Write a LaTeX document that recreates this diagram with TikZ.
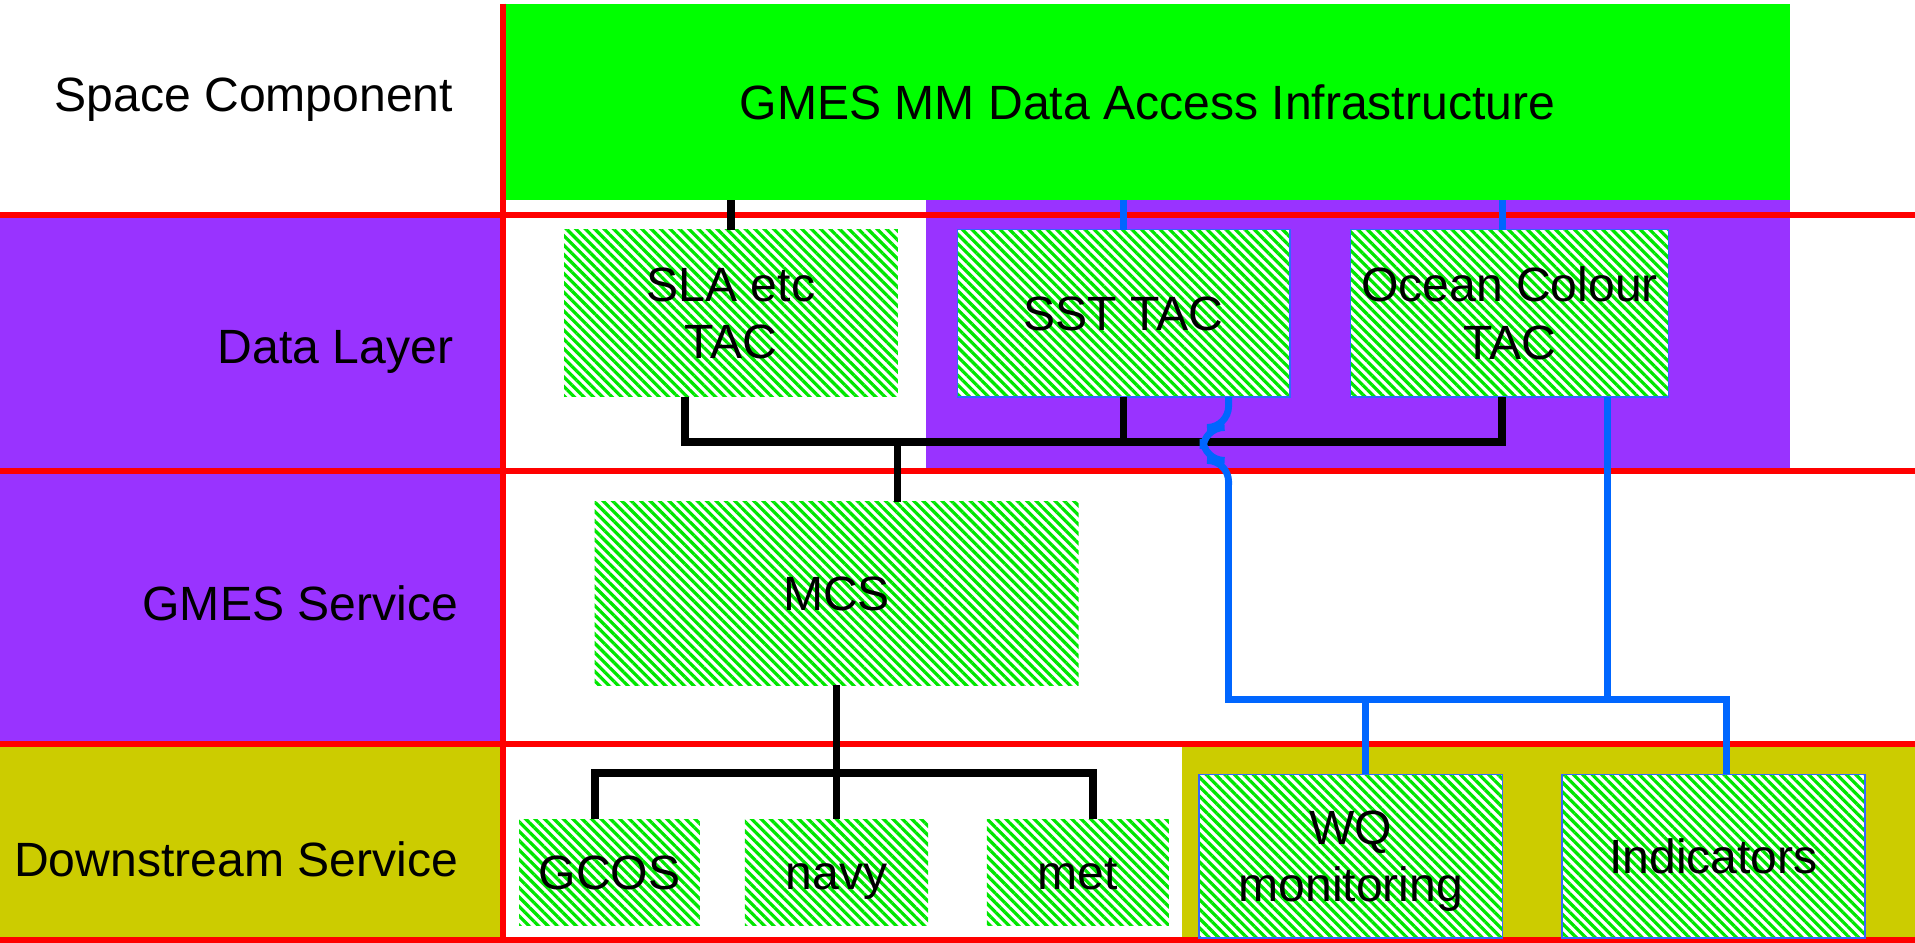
\documentclass[tikz,border=0pt]{standalone}
\usepackage{fontspec}
\setmainfont{Liberation Sans}
\usetikzlibrary{patterns.meta,calc}
\definecolor{gmesgreen}{HTML}{00FF00}
\definecolor{hatchgreen}{HTML}{00E600}
\definecolor{layerpurple}{HTML}{9933FF}
\definecolor{oliveband}{HTML}{CCCC00}
\definecolor{redline}{HTML}{FF0000}
\definecolor{linkblue}{HTML}{0066FF}
\definecolor{boxblue}{HTML}{3366FF}
\begin{document}
\begin{tikzpicture}[x=0.01cm,y=-0.01cm,
  every node/.style={font=\fontsize{11.2}{13.3}\selectfont, inner sep=0pt, outer sep=0pt},
  hatchbox/.style={rectangle, align=center, preaction={fill=white},
    pattern={Lines[angle=-45,distance=1.55pt,line width=0.75pt]}, pattern color=hatchgreen},
  bluebox/.style={hatchbox, draw=boxblue, line width=0.35pt},
  oneline/.style={text height=8pt, text depth=0pt},
  divider/.style={draw=redline, line width=1.42pt},
  blk/.style={draw=black, line width=1.75pt},
  blu/.style={draw=linkblue, line width=1.6pt},
  layerlabel/.style={anchor=base east}
]
\useasboundingbox (0,0) rectangle (1568,772);
% background bands
\fill[layerpurple] (0,176) rectangle (412,609);
\fill[oliveband] (0,609) rectangle (412,772);
\fill[layerpurple] (758,164) rectangle (1466,386);
\fill[oliveband] (968,609) rectangle (1568,772);
% space component box
\node[fill=gmesgreen, oneline, minimum width=10.51cm, minimum height=1.61cm] (dai) at (939.5,83.5) {GMES MM Data Access Infrastructure};
% red dividers
\draw[divider] (0,176) -- (1568,176);
\draw[divider] (0,386) -- (1568,386);
\draw[divider] (0,609) -- (1568,609);
\draw[divider] (0,770) -- (1568,770);
\draw[divider] (412,3) -- (412,772);
% boxes
\node[hatchbox, minimum width=2.73cm, minimum height=1.37cm] (sla) at (598.5,256.5) {SLA etc\\TAC};
\node[bluebox, oneline, minimum width=2.72cm, minimum height=1.37cm] (sst) at (920,256.5) {SST TAC};
\node[bluebox, minimum width=2.60cm, minimum height=1.37cm] (oc) at (1236,256.5) {Ocean Colour\\TAC};
\node[hatchbox, oneline, minimum width=3.96cm, minimum height=1.50cm] (mcs) at (685,486) {MCS};
\node[hatchbox, oneline, minimum width=1.48cm, minimum height=0.87cm] (gcos) at (499,714.5) {GCOS};
\node[hatchbox, oneline, minimum width=1.50cm, minimum height=0.87cm] (navy) at (685,714.5) {navy};
\node[hatchbox, oneline, minimum width=1.49cm, minimum height=0.87cm] (met) at (882.5,714.5) {met};
\node[bluebox, text depth=0pt, minimum width=2.48cm, minimum height=1.34cm] (wq) at (1106,701) {WQ\\monitoring};
\node[bluebox, oneline, minimum width=2.48cm, minimum height=1.34cm] (ind) at (1403,701) {Indicators};
% black connectors
\coordinate (jb) at (735,362);
\coordinate (jd) at (685,633);
\draw[blk] (dai.south -| sla.north) -- (sla.north);
\draw[blk] ($(sla.south)+(-37.5,0)$) |- (jb) -| ($(oc.south)+(-6,0)$);
\draw[blk] (sst.south) -- (sst.south |- jb);
\draw[blk] (jb) -- (jb |- mcs.north);
\draw[blk] (mcs.south) -- (navy.north);
\draw[blk] ($(gcos.north)+(-12,0)$) |- (jd) -| ($(met.north)+(12.5,0)$);
% blue connectors
\coordinate (ocTop) at ($(oc.north)+(-6,0)$);
\coordinate (sstOut) at ($(sst.south)+(86,0)$);
\coordinate (hopL) at (985,350);
\coordinate (hopR) at (1006,377);
\coordinate (jc) at (1118,573);
\coordinate (indIn) at ($(ind.north)+(11,0)$);
\coordinate (ocOut) at ($(oc.south)+(80,0)$);
\draw[blu] (dai.south -| sst.north) -- (sst.north);
\draw[blu] (dai.south -| ocTop) -- (ocTop);
\draw[blu, rounded corners=5] (sstOut) |- (hopL) |- (hopR) -- ++(0,20);
\draw[blu] ($(hopR)+(0,15)$) |- (jc) -| (indIn);
\draw[blu] (ocOut) -- (ocOut |- jc);
\draw[blu] (jc) -- (jc |- wq.north);
% layer labels
\node[layerlabel] (lspace) at (371,91.5) {Space Component};
\node[layerlabel] (ldata) at (371,297.5) {Data Layer};
\node[layerlabel] (lgmes) at (375,507.7) {GMES Service};
\node[layerlabel] (ldown) at (375,718) {Downstream Service};
\end{tikzpicture}
\end{document}
